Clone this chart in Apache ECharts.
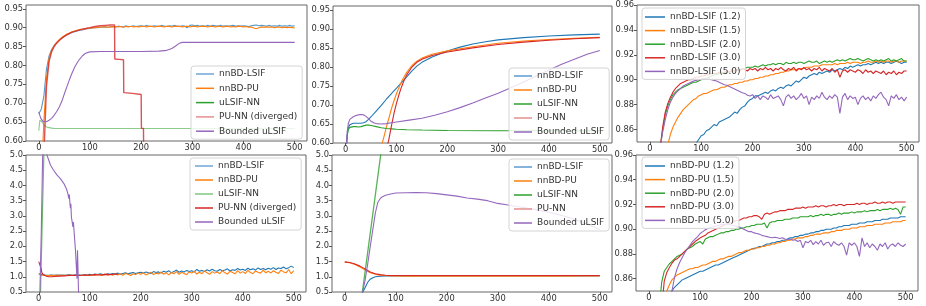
<!DOCTYPE html>
<html><head><meta charset="utf-8">
<script src="https://cdn.jsdelivr.net/npm/echarts@6/dist/echarts.min.js"></script>
<style>html,body{margin:0;padding:0;background:#fff}#c{width:926px;height:306px}</style>
</head><body><div id="c"></div>
<script>
// ---------- shared epoch grid (every 5 epochs) ----------
const EP = [0,5,10,15,20,25,30,35,40,45,50,55,60,65,70,75,80,85,90,95,
100,105,110,115,120,125,130,135,140,145,150,155,160,165,170,175,180,185,190,195,
200,205,210,215,220,225,230,235,240,245,250,255,260,265,270,275,280,285,290,295,
300,305,310,315,320,325,330,335,340,345,350,355,360,365,370,375,380,385,390,395,
400,405,410,415,420,425,430,435,440,445,450,455,460,465,470,475,480,485,490,495,500];

// tick labels
const X_TICKS = [0,100,200,300,400,500];
const Y_TICKS_ACC = [0.60,0.65,0.70,0.75,0.80,0.85,0.90,0.95];
const Y_TICKS_LOSS = [0.5,1.0,1.5,2.0,2.5,3.0,3.5,4.0,4.5,5.0];
const Y_TICKS_FINE = [0.86,0.88,0.90,0.92,0.94,0.96];

// legend names
const NAMES_A = ['nnBD-LSIF','nnBD-PU','uLSIF-NN','PU-NN (diverged)','Bounded uLSIF'];
const NAMES_B = ['nnBD-LSIF','nnBD-PU','uLSIF-NN','PU-NN','Bounded uLSIF'];
const NAMES_C = ['nnBD-LSIF (1.2)','nnBD-LSIF (1.5)','nnBD-LSIF (2.0)','nnBD-LSIF (3.0)','nnBD-LSIF (5.0)'];
const NAMES_D = ['nnBD-PU (1.2)','nnBD-PU (1.5)','nnBD-PU (2.0)','nnBD-PU (3.0)','nnBD-PU (5.0)'];

// ---------- Panel 1 (top-left) ----------
const p1_blue = [0.672,0.685,0.72,0.79,0.825,0.842,0.853,0.861,0.867,0.872,
0.877,0.881,0.884,0.887,0.889,0.891,0.893,0.894,0.896,0.897,
0.898,0.899,0.9,0.9,0.901,0.901,0.902,0.901,0.902,0.903,
0.902,0.904,0.903,0.902,0.905,0.903,0.903,0.905,0.903,0.904,
0.905,0.903,0.906,0.904,0.903,0.905,0.904,0.903,0.906,0.904,
0.903,0.905,0.904,0.906,0.904,0.903,0.905,0.904,0.9,0.906,
0.907,0.905,0.906,0.904,0.905,0.904,0.906,0.904,0.906,0.905,
0.904,0.906,0.904,0.905,0.904,0.905,0.906,0.904,0.905,0.904,
0.905,0.904,0.903,0.905,0.906,0.907,0.905,0.906,0.905,0.904,
0.906,0.904,0.905,0.904,0.906,0.904,0.905,0.904,0.906,0.904,0.905];
const p1_orange = [0.5,0.5,0.655,0.765,0.818,0.84,0.852,0.861,0.868,0.874,
0.879,0.883,0.886,0.889,0.891,0.893,0.895,0.896,0.897,0.898,
0.899,0.9,0.9,0.901,0.901,0.902,0.902,0.901,0.902,0.902,
0.903,0.902,0.903,0.901,0.903,0.902,0.904,0.902,0.903,0.902,
0.903,0.904,0.902,0.903,0.904,0.902,0.903,0.904,0.903,0.902,
0.904,0.903,0.902,0.904,0.903,0.904,0.902,0.903,0.904,0.902,
0.903,0.904,0.902,0.903,0.904,0.903,0.902,0.904,0.903,0.902,
0.904,0.903,0.902,0.903,0.904,0.902,0.903,0.902,0.904,0.903,
0.902,0.903,0.901,0.902,0.899,0.897,0.9,0.902,0.901,0.902,
0.901,0.902,0.9,0.901,0.902,0.9,0.901,0.9,0.901,0.9,0.899];
const p1_green_x = [0,2,4,6,8,10,12,14,16,18,20,25,30,40,60,100,200,300,400,500];
const p1_green = [0.627,0.655,0.655,0.651,0.647,0.643,0.64,0.638,0.637,0.636,0.635,0.634,0.6335,0.633,0.633,0.633,0.633,0.633,0.633,0.633];
const p1_red_x = [0,5,8,11,15,20,25,30,35,40,45,50,55,60,65,70,75,80,85,90,95,100,110,120,130,140,148,148.5,157,165.5,166,183,200,200.5,204.5,205.5];
const p1_red = [0.5,0.5,0.5,0.6,0.745,0.81,0.836,0.85,0.859,0.866,0.872,0.877,0.881,0.885,0.888,0.89,0.892,0.894,0.896,0.897,0.899,0.9,0.903,0.905,0.906,0.907,0.907,0.817,0.816,0.815,0.728,0.726,0.723,0.634,0.633,0.5];
const p1_purple_x = [0,2,4,6,8,10,15,20,25,30,35,40,45,50,55,60,65,70,75,80,85,90,95,100,120,150,200,235,250,260,268,275,280,290,300,400,500];
const p1_purple = [0.677,0.668,0.66,0.655,0.652,0.65,0.651,0.655,0.66,0.668,0.678,0.69,0.705,0.725,0.744,0.763,0.78,0.795,0.807,0.817,0.825,0.831,0.834,0.836,0.837,0.837,0.837,0.838,0.84,0.845,0.852,0.859,0.861,0.861,0.861,0.861,0.861];

// ---------- Panel 2 (top-middle) ----------
const p2_blue_x = [0,3,5,8,10,15,20,25,30,35,40,45,50,60,70,80,90,100,110,120,130,140,150,170,200,225,250,275,300,350,400,450,500];
const p2_blue = [0.56,0.62,0.64,0.648,0.65,0.652,0.652,0.652,0.652,0.653,0.656,0.662,0.669,0.684,0.699,0.715,0.73,0.744,0.759,0.774,0.789,0.802,0.812,0.826,0.842,0.852,0.86,0.866,0.871,0.877,0.881,0.884,0.886];
const p2_orange_x = [70,75,80,85,90,95,100,110,120,130,140,150,170,200,250,300,350,400,450,500];
const p2_orange = [0.59,0.615,0.642,0.665,0.69,0.711,0.73,0.762,0.786,0.803,0.815,0.823,0.833,0.842,0.853,0.862,0.868,0.872,0.875,0.878];
const p2_green_x = [0,3,5,8,10,15,20,25,30,35,40,45,50,60,70,80,90,100,120,150,200,300,400,500];
const p2_green = [0.57,0.62,0.635,0.641,0.643,0.643,0.643,0.642,0.643,0.645,0.647,0.647,0.646,0.643,0.64,0.638,0.637,0.636,0.635,0.634,0.633,0.632,0.632,0.632];
const p2_red_x = [80,85,90,95,100,105,110,115,120,130,140,150,170,200,250,300,350,400,450,500];
const p2_red = [0.58,0.61,0.645,0.678,0.705,0.728,0.748,0.765,0.779,0.799,0.812,0.82,0.83,0.839,0.85,0.859,0.865,0.87,0.874,0.877];
const p2_purple_x = [0,3,5,8,10,15,20,25,30,35,40,45,50,55,60,70,80,90,100,125,150,175,200,225,250,275,300,325,350,375,400,425,450,475,500];
const p2_purple = [0.57,0.63,0.65,0.662,0.665,0.669,0.672,0.674,0.675,0.674,0.67,0.664,0.657,0.653,0.651,0.65,0.651,0.653,0.655,0.66,0.665,0.673,0.682,0.693,0.705,0.718,0.731,0.745,0.76,0.776,0.792,0.807,0.82,0.833,0.843];

// ---------- Panel 3 (top-right), on EP ----------
const p3_c12 = [0.8,0.8,0.8,0.8,0.8,0.8,0.8,0.8,0.8,0.8,
0.78,0.79,0.8,0.81,0.82,0.83,0.838,0.844,0.849,0.852,
0.855,0.856,0.859,0.86,0.862,0.864,0.863,0.866,0.867,0.868,
0.869,0.87,0.872,0.874,0.873,0.876,0.878,0.879,0.882,0.884,
0.885,0.887,0.887,0.888,0.889,0.89,0.889,0.891,0.892,0.891,
0.893,0.894,0.893,0.895,0.896,0.895,0.897,0.899,0.898,0.9,
0.902,0.901,0.903,0.904,0.905,0.904,0.906,0.905,0.906,0.907,
0.906,0.908,0.907,0.908,0.909,0.908,0.91,0.909,0.911,0.91,
0.911,0.912,0.911,0.912,0.912,0.913,0.912,0.913,0.914,0.913,
0.914,0.913,0.914,0.914,0.913,0.914,0.915,0.914,0.913,0.914,0.914];
const p3_c15 = [0.72,0.74,0.76,0.78,0.8,0.815,0.83,0.848,0.856,0.862,
0.866,0.87,0.873,0.876,0.878,0.88,0.882,0.884,0.885,0.887,
0.888,0.889,0.889,0.89,0.891,0.892,0.892,0.893,0.894,0.894,
0.895,0.896,0.896,0.897,0.897,0.898,0.898,0.899,0.899,0.9,
0.9,0.901,0.901,0.902,0.902,0.903,0.903,0.904,0.904,0.905,
0.905,0.906,0.906,0.907,0.907,0.908,0.908,0.908,0.909,0.909,
0.909,0.91,0.91,0.91,0.911,0.911,0.911,0.912,0.912,0.912,
0.912,0.912,0.913,0.912,0.913,0.913,0.913,0.914,0.913,0.914,
0.914,0.914,0.913,0.914,0.914,0.915,0.914,0.914,0.915,0.914,
0.915,0.914,0.915,0.915,0.914,0.915,0.915,0.914,0.915,0.915,0.915];
const p3_c20 = [0.75,0.77,0.79,0.81,0.845,0.86,0.872,0.879,0.884,0.888,
0.89,0.892,0.893,0.894,0.895,0.896,0.897,0.898,0.898,0.899,
0.9,0.901,0.901,0.902,0.903,0.904,0.904,0.905,0.905,0.905,
0.906,0.906,0.907,0.907,0.908,0.908,0.909,0.909,0.91,0.91,
0.91,0.911,0.91,0.911,0.912,0.911,0.912,0.912,0.913,0.912,
0.913,0.913,0.912,0.914,0.913,0.913,0.914,0.913,0.914,0.914,
0.913,0.914,0.915,0.914,0.914,0.915,0.913,0.914,0.915,0.914,
0.915,0.914,0.915,0.916,0.915,0.916,0.915,0.916,0.917,0.916,
0.916,0.917,0.916,0.915,0.916,0.917,0.916,0.915,0.916,0.915,
0.916,0.915,0.916,0.917,0.915,0.916,0.915,0.916,0.917,0.915,0.915];
const p3_c30 = [0.75,0.77,0.79,0.81,0.845,0.862,0.874,0.881,0.886,0.89,
0.893,0.895,0.897,0.898,0.899,0.9,0.9,0.901,0.902,0.902,
0.903,0.903,0.904,0.904,0.905,0.905,0.905,0.906,0.906,0.906,
0.907,0.906,0.908,0.907,0.908,0.907,0.909,0.908,0.907,0.909,
0.908,0.909,0.907,0.909,0.908,0.91,0.908,0.909,0.907,0.909,
0.908,0.91,0.908,0.907,0.909,0.908,0.91,0.907,0.909,0.908,
0.91,0.908,0.909,0.907,0.909,0.908,0.91,0.907,0.909,0.908,
0.907,0.909,0.906,0.908,0.902,0.907,0.908,0.906,0.908,0.907,
0.906,0.908,0.907,0.905,0.908,0.906,0.907,0.905,0.907,0.906,
0.905,0.907,0.904,0.906,0.905,0.907,0.904,0.906,0.905,0.907,0.907];
const p3_c50 = [0.75,0.77,0.79,0.81,0.845,0.858,0.868,0.876,0.882,0.886,
0.889,0.891,0.893,0.895,0.896,0.897,0.898,0.899,0.8995,0.9,
0.9005,0.9005,0.9005,0.9005,0.9,0.8995,0.899,0.898,0.897,0.896,
0.8955,0.8945,0.8935,0.8925,0.8915,0.8905,0.8895,0.889,0.8875,0.887,
0.888,0.885,0.887,0.884,0.887,0.886,0.884,0.888,0.885,0.886,
0.887,0.884,0.879,0.886,0.888,0.885,0.887,0.884,0.886,0.889,
0.885,0.887,0.88,0.886,0.884,0.887,0.885,0.89,0.886,0.884,
0.887,0.885,0.888,0.886,0.873,0.886,0.889,0.884,0.887,0.885,
0.886,0.88,0.885,0.887,0.884,0.886,0.883,0.887,0.885,0.888,
0.89,0.886,0.884,0.879,0.887,0.885,0.888,0.884,0.886,0.883,0.886];

// ---------- Panel 4 (bottom-left), on EP ----------
const p4_blue = [1.1,1.07,1.06,1.05,1.05,1.06,1.05,1.06,1.05,1.06,
1.05,1.06,1.07,1.05,1.06,1.07,1.06,1.05,1.07,1.06,
1.08,1.06,1.09,1.07,1.1,1.08,1.07,1.1,1.08,1.11,
1.09,1.12,1.08,1.11,1.13,1.1,1.12,1.14,1.11,1.13,
1.15,1.12,1.16,1.13,1.11,1.17,1.14,1.16,1.12,1.18,
1.15,1.2,1.13,1.17,1.22,1.15,1.19,1.16,1.21,1.17,
1.2,1.16,1.24,1.18,1.21,1.17,1.23,1.19,1.25,1.2,
1.18,1.24,1.2,1.22,1.26,1.19,1.23,1.21,1.27,1.22,
1.25,1.21,1.28,1.23,1.26,1.22,1.29,1.24,1.27,1.23,
1.28,1.25,1.3,1.24,1.29,1.27,1.32,1.26,1.3,1.35,1.3];
const p4_orange = [1.1,1.06,1.05,1.04,1.04,1.05,1.04,1.05,1.06,1.04,
1.05,1.04,1.06,1.05,1.04,1.06,1.05,1.04,1.06,1.05,
1.04,1.07,1.05,1.08,1.06,1.04,1.09,1.06,1.08,1.05,
1.09,1.06,1.1,1.05,1.11,1.08,1.04,1.1,1.07,1.12,
1.08,1.13,1.06,1.1,1.15,1.07,1.12,1.09,1.16,1.08,
1.13,1.06,1.14,1.1,1.17,1.08,1.15,1.11,1.07,1.16,
1.12,1.18,1.09,1.15,1.1,1.19,1.13,1.08,1.17,1.12,
1.16,1.1,1.2,1.13,1.09,1.18,1.14,1.1,1.2,1.12,
1.17,1.11,1.21,1.14,1.1,1.19,1.15,1.12,1.22,1.13,
1.18,1.12,1.2,1.15,1.11,1.22,1.16,1.13,1.24,1.1,1.2];
const p4_green_x = [0,3.5,10,11];
const p4_green = [0.0,0.5,5.0,5.6];
const p4_red_x = [0,2,4,6,8,10,15,20,25,30,40,50,60,70,80,90,100,110,120,130,140,150,155];
const p4_red = [1.5,1.45,1.3,1.15,1.08,1.05,1.02,1.0,1.0,1.01,1.02,1.03,1.04,1.05,1.04,1.06,1.05,1.07,1.06,1.08,1.07,1.09,1.08];
const p4_purple_x = [2,5,8,12,16,23,29,36,42,49,54,57,59,60,61,62,63,64,65,67,68,70,72,73,75,76,77,78,79];
const p4_purple = [0.3,2.5,5.3,5.3,5.0,4.67,4.5,4.34,4.23,4.07,3.9,3.74,3.57,3.7,3.45,3.25,3.4,2.97,3.03,2.64,2.8,2.31,1.87,1.55,0.94,1.87,1.2,0.5,0.2];

// ---------- Panel 5 (bottom-middle) ----------
const p5_blue_x = [30,35,40,45,50,55,60,65,70,80,90,100,150,200,300,400,500];
const p5_blue = [0.3,0.48,0.65,0.82,0.92,0.97,1.0,1.01,1.02,1.03,1.03,1.03,1.03,1.03,1.03,1.03,1.03];
const p5_orange_x = [0,10,20,30,40,50,60,70,80,90,100,120,150,200,300,400,500];
const p5_orange = [1.48,1.46,1.4,1.32,1.22,1.13,1.08,1.05,1.04,1.03,1.03,1.02,1.02,1.02,1.02,1.02,1.03];
const p5_green_x = [33,72,76];
const p5_green = [0.3,5.2,5.8];
const p5_red_x = [0,10,20,30,40,50,60,70,80,90,100,120,150,200,300,400,500];
const p5_red = [1.49,1.47,1.42,1.35,1.26,1.16,1.1,1.07,1.05,1.04,1.04,1.04,1.04,1.04,1.04,1.04,1.04];
const p5_purple_x = [30,35,40,45,50,55,60,65,70,75,80,90,100,120,140,160,180,200,220,240,260,280,300,320,340,360,380,400,420,440,460,480,500];
const p5_purple = [0.2,0.5,0.9,1.42,2.0,2.55,3.1,3.45,3.58,3.64,3.68,3.72,3.75,3.76,3.77,3.76,3.73,3.69,3.65,3.59,3.55,3.5,3.41,3.36,3.3,3.25,3.19,3.12,3.04,2.95,2.83,2.7,2.55];

// ---------- Panel 6 (bottom-right), on EP ----------
const p6_c12 = [0.75,0.76,0.77,0.78,0.79,0.8,0.81,0.82,0.84,0.85,
0.853,0.855,0.857,0.859,0.86,0.861,0.862,0.863,0.864,0.865,
0.866,0.866,0.867,0.868,0.869,0.87,0.871,0.871,0.872,0.873,
0.874,0.875,0.876,0.877,0.878,0.879,0.88,0.881,0.882,0.883,
0.884,0.8845,0.885,0.886,0.886,0.887,0.888,0.888,0.889,0.889,
0.89,0.89,0.891,0.891,0.892,0.893,0.893,0.894,0.894,0.895,
0.895,0.896,0.896,0.897,0.897,0.898,0.898,0.899,0.899,0.9,
0.9,0.9,0.901,0.901,0.902,0.902,0.903,0.903,0.903,0.904,
0.904,0.904,0.905,0.905,0.905,0.906,0.906,0.906,0.907,0.907,
0.907,0.908,0.908,0.908,0.909,0.909,0.909,0.909,0.91,0.91,0.91];
const p6_c15 = [0.76,0.77,0.78,0.79,0.8,0.81,0.835,0.85,0.855,0.859,
0.861,0.863,0.864,0.865,0.866,0.867,0.868,0.868,0.869,0.869,
0.87,0.871,0.871,0.872,0.873,0.874,0.874,0.875,0.876,0.876,
0.877,0.878,0.878,0.879,0.88,0.881,0.881,0.882,0.883,0.883,
0.884,0.884,0.885,0.885,0.886,0.886,0.887,0.887,0.888,0.888,
0.889,0.889,0.89,0.89,0.891,0.891,0.892,0.892,0.893,0.893,
0.893,0.894,0.894,0.895,0.895,0.896,0.896,0.896,0.897,0.897,
0.897,0.898,0.898,0.899,0.899,0.899,0.9,0.9,0.9,0.901,
0.901,0.901,0.902,0.902,0.902,0.903,0.903,0.903,0.904,0.904,
0.904,0.904,0.905,0.905,0.905,0.906,0.906,0.906,0.906,0.907,0.907];
const p6_c20 = [0.76,0.77,0.78,0.8,0.835,0.857,0.866,0.869,0.872,0.874,
0.876,0.878,0.879,0.88,0.882,0.884,0.885,0.886,0.888,0.889,
0.89,0.888,0.892,0.893,0.894,0.894,0.895,0.896,0.897,0.897,
0.898,0.898,0.899,0.899,0.9,0.9,0.901,0.901,0.902,0.902,
0.903,0.903,0.904,0.904,0.904,0.905,0.901,0.905,0.906,0.906,
0.907,0.907,0.907,0.908,0.908,0.908,0.909,0.909,0.909,0.91,
0.91,0.91,0.91,0.911,0.91,0.911,0.911,0.912,0.911,0.912,
0.912,0.911,0.912,0.912,0.913,0.912,0.913,0.913,0.913,0.914,
0.913,0.914,0.914,0.914,0.915,0.914,0.915,0.915,0.915,0.916,
0.915,0.916,0.916,0.916,0.917,0.916,0.917,0.916,0.912,0.918,0.918];
const p6_c30 = [0.76,0.77,0.78,0.79,0.8,0.835,0.858,0.865,0.869,0.8725,
0.875,0.876,0.878,0.88,0.882,0.884,0.886,0.888,0.89,0.8915,
0.893,0.894,0.895,0.897,0.898,0.899,0.9,0.901,0.902,0.903,
0.904,0.905,0.905,0.906,0.907,0.907,0.908,0.909,0.909,0.91,
0.91,0.911,0.911,0.91,0.908,0.912,0.913,0.912,0.913,0.914,
0.914,0.915,0.915,0.915,0.916,0.916,0.916,0.917,0.917,0.917,
0.918,0.917,0.918,0.918,0.918,0.919,0.918,0.919,0.919,0.918,
0.919,0.919,0.92,0.919,0.92,0.92,0.919,0.92,0.92,0.92,
0.92,0.921,0.92,0.921,0.921,0.92,0.921,0.921,0.922,0.921,
0.921,0.922,0.921,0.922,0.922,0.921,0.922,0.922,0.922,0.922,0.922];
const p6_c50 = [0.7,0.71,0.72,0.73,0.74,0.76,0.78,0.8,0.83,0.85,
0.861,0.868,0.873,0.877,0.881,0.884,0.887,0.89,0.892,0.894,
0.8965,0.898,0.8995,0.9005,0.9015,0.902,0.9025,0.903,0.9035,0.904,
0.904,0.904,0.9035,0.903,0.9025,0.902,0.901,0.9,0.899,0.898,
0.898,0.897,0.8965,0.896,0.895,0.8945,0.894,0.8935,0.893,0.8935,
0.893,0.8925,0.893,0.892,0.8915,0.892,0.891,0.8915,0.89,0.891,
0.885,0.89,0.889,0.891,0.8875,0.89,0.888,0.891,0.887,0.889,
0.8895,0.886,0.89,0.888,0.887,0.889,0.886,0.879,0.889,0.887,
0.889,0.886,0.878,0.893,0.886,0.889,0.885,0.888,0.886,0.883,
0.888,0.886,0.889,0.884,0.887,0.888,0.886,0.889,0.887,0.886,0.888];

// ---------- build ----------
const C = {blue:'#1f77b4', orange:'#ff7f0e', green:'#2ca02c', red:'#d62728', purple:'#9467bd'};
const FONT = 'DejaVu Sans';
const pairs = (xs, ys) => xs.map((x, i) => [x, ys[i]]);

const GRIDS = [
  {left:26, top:5, width:281, height:136},
  {left:333, top:6, width:279, height:137},
  {left:637, top:5, width:282, height:137},
  {left:26, top:155, width:280, height:137},
  {left:332, top:155, width:280, height:137},
  {left:636, top:155, width:282, height:136}
];
const YR = [
  {min:0.6, max:0.96, ticks:Y_TICKS_ACC, dec:2},
  {min:0.6, max:0.96, ticks:Y_TICKS_ACC, dec:2},
  {min:0.85, max:0.96, ticks:Y_TICKS_FINE, dec:2},
  {min:0.5, max:5.0, ticks:Y_TICKS_LOSS, dec:1},
  {min:0.5, max:5.0, ticks:Y_TICKS_LOSS, dec:1},
  {min:0.85, max:0.96, ticks:Y_TICKS_FINE, dec:2}
];

const grid = GRIDS.map(g => Object.assign({show:true, borderColor:'#666', borderWidth:1, backgroundColor:'transparent', containLabel:false}, g));
const xAxis = GRIDS.map((g, i) => ({
  type:'value', gridIndex:i, min:-25, max:524, position:'bottom',
  axisLine:{show:false, onZero:false}, splitLine:{show:false},
  axisTick:{show:true, length:3, lineStyle:{color:'#555'}, customValues:X_TICKS},
  axisLabel:{customValues:X_TICKS, fontSize:8.3, color:'#333', margin:3, fontFamily:FONT}
}));
const yAxis = YR.map((r, i) => ({
  type:'value', gridIndex:i, min:r.min, max:r.max, position:'left',
  axisLine:{show:false, onZero:false}, splitLine:{show:false},
  axisTick:{show:true, length:3, lineStyle:{color:'#555'}, customValues:r.ticks},
  axisLabel:{customValues:r.ticks, fontSize:8.3, color:'#333', margin:3, fontFamily:FONT,
    formatter: v => Number(v).toFixed(r.dec)}
}));

function line(name, gi, data, color, width, opacity) {
  return {type:'line', name, xAxisIndex:gi, yAxisIndex:gi, data, symbol:'none', showSymbol:false,
    clip:true, animation:false, silent:true, color,
    lineStyle:{width: width || 1.1, color, opacity: opacity == null ? 1 : opacity}};
}

const series = [
  line(NAMES_A[0], 0, pairs(EP, p1_blue), C.blue, 1.1, 0.75),
  line(NAMES_A[1], 0, pairs(EP, p1_orange), C.orange),
  line(NAMES_A[2], 0, pairs(p1_green_x, p1_green), C.green, 1.1, 0.55),
  line(NAMES_A[3], 0, pairs(p1_red_x, p1_red), C.red, 1.4, 0.8),
  line(NAMES_A[4], 0, pairs(p1_purple_x, p1_purple), C.purple),

  line(NAMES_B[0], 1, pairs(p2_blue_x, p2_blue), C.blue),
  line(NAMES_B[1], 1, pairs(p2_orange_x, p2_orange), C.orange),
  line(NAMES_B[2], 1, pairs(p2_green_x, p2_green), C.green),
  line(NAMES_B[3], 1, pairs(p2_red_x, p2_red), C.red),
  line(NAMES_B[4], 1, pairs(p2_purple_x, p2_purple), C.purple),

  line(NAMES_C[0], 2, pairs(EP, p3_c12), C.blue),
  line(NAMES_C[1], 2, pairs(EP, p3_c15), C.orange),
  line(NAMES_C[2], 2, pairs(EP, p3_c20), C.green),
  line(NAMES_C[3], 2, pairs(EP, p3_c30), C.red),
  line(NAMES_C[4], 2, pairs(EP, p3_c50), C.purple),

  line(NAMES_A[0], 3, pairs(EP, p4_blue), C.blue),
  line(NAMES_A[1], 3, pairs(EP, p4_orange), C.orange),
  line(NAMES_A[2], 3, pairs(p4_green_x, p4_green), C.green, 1.2, 0.7),
  line(NAMES_A[3], 3, pairs(p4_red_x, p4_red), C.red),
  line(NAMES_A[4], 3, pairs(p4_purple_x, p4_purple), C.purple),

  line(NAMES_B[0], 4, pairs(p5_blue_x, p5_blue), C.blue),
  line(NAMES_B[1], 4, pairs(p5_orange_x, p5_orange), C.orange),
  line(NAMES_B[2], 4, pairs(p5_green_x, p5_green), C.green, 1.3, 0.8),
  line(NAMES_B[3], 4, pairs(p5_red_x, p5_red), C.red),
  line(NAMES_B[4], 4, pairs(p5_purple_x, p5_purple), C.purple),

  line(NAMES_D[0], 5, pairs(EP, p6_c12), C.blue),
  line(NAMES_D[1], 5, pairs(EP, p6_c15), C.orange),
  line(NAMES_D[2], 5, pairs(EP, p6_c20), C.green),
  line(NAMES_D[3], 5, pairs(EP, p6_c30), C.red),
  line(NAMES_D[4], 5, pairs(EP, p6_c50), C.purple)
];

function legend(names, colors, left, top, iw, pad, gap) {
  return {
    orient:'vertical', left, top, icon:'rect', itemWidth:iw, itemHeight:1.5, itemGap:gap,
    padding:pad, backgroundColor:'rgba(255,255,255,0.82)', borderColor:'#d4d4d4',
    borderWidth:1, borderRadius:3, selectedMode:false,
    textStyle:{fontSize:9, color:'#333', lineHeight:10, fontFamily:FONT},
    data: names.map((n, i) => ({name:n, itemStyle:{color:colors[i]}}))
  };
}
const LC_A = ['#6fa6d6', C.orange, C.green, '#e58f8f', C.purple];
const LC_B = ['#5b9bd0', C.orange, C.green, '#e58f8f', C.purple];
const LC_D = ['#6fa6d6', C.orange, '#7fc97f', C.red, C.purple];
const LC_F = [C.blue, C.orange, C.green, C.red, C.purple];

const option = {
  backgroundColor:'#fff', animation:false,
  textStyle:{fontFamily:FONT},
  grid, xAxis, yAxis, series,
  legend:[
    legend(NAMES_A, LC_A, 191, 66, 18, [3,5,3,5], 4.3),
    legend(NAMES_B, LC_B, 509, 68, 18, [3,5,3,5], 4),
    legend(NAMES_C, LC_F, 642, 8, 20, [4,5,3,3], 3.6),
    legend(NAMES_A, LC_D, 190, 158, 18, [3,5,3,5], 4),
    legend(NAMES_B, LC_B, 509, 159, 18, [3,5,3,5], 4),
    legend(NAMES_D, LC_F, 642, 157, 20, [4,5,3,3], 3.6)
  ]
};
const chart = echarts.init(document.getElementById('c'), null, {renderer:'canvas'});
chart.setOption(option);
</script></body></html>
